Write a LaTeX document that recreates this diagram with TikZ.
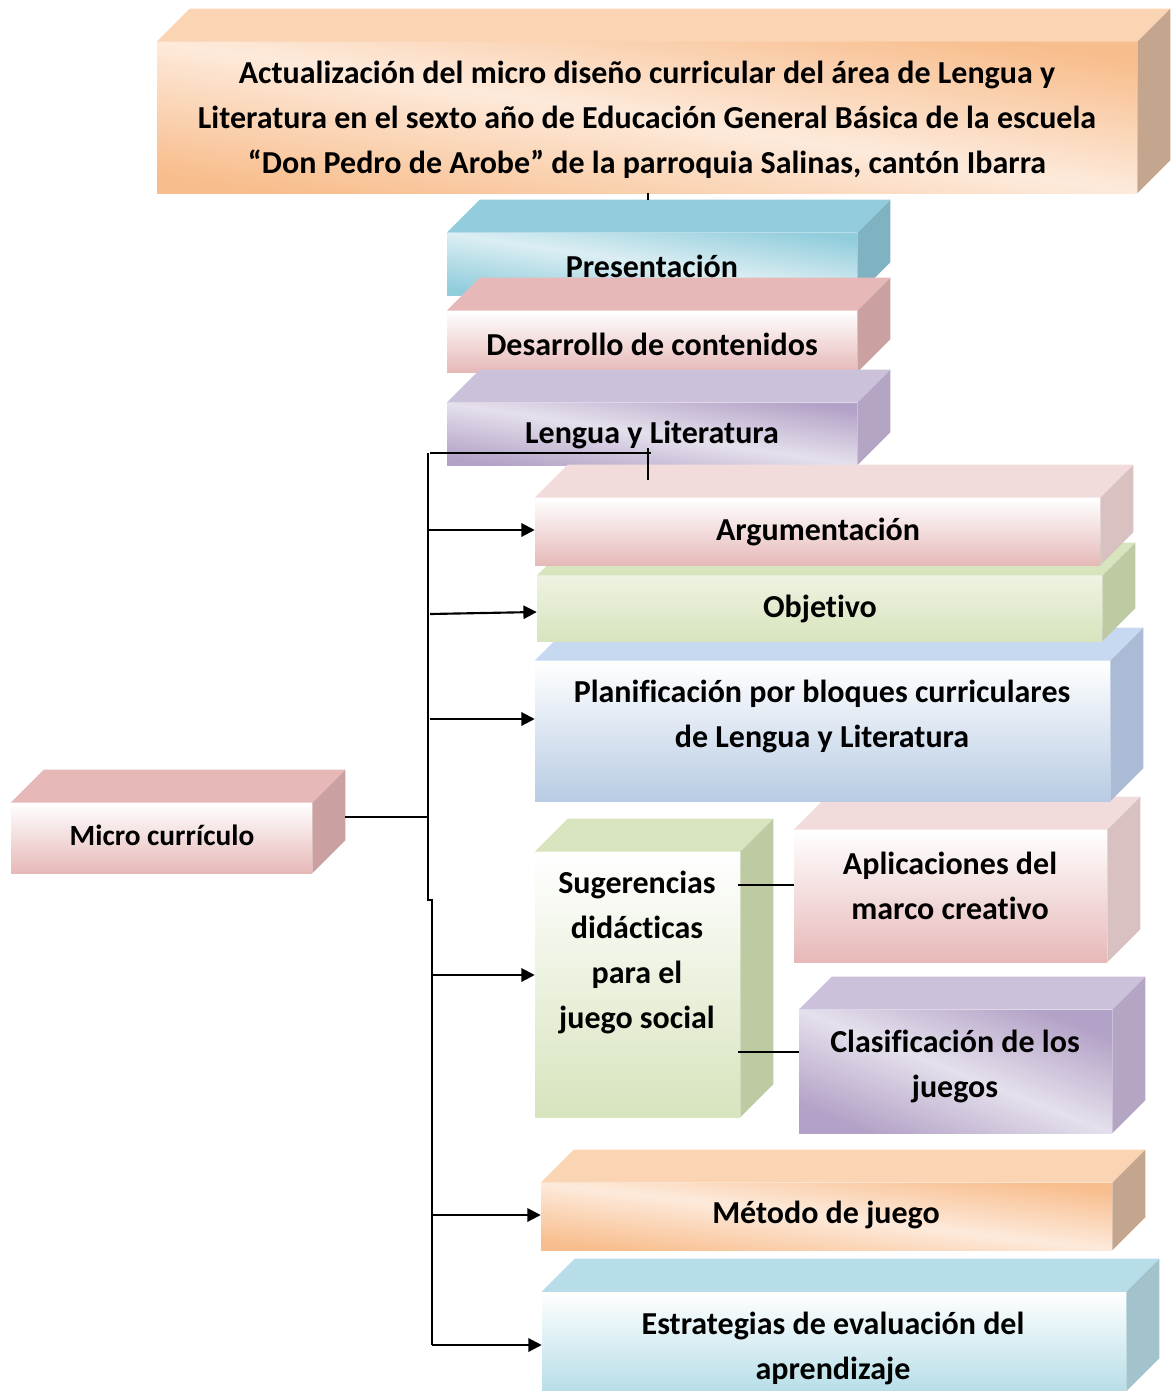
\documentclass[tikz,border=0pt]{standalone}
\usepackage{fontspec}
\setmainfont{Carlito}[Ligatures=NoCommon]
\usetikzlibrary{arrows.meta,calc}
\definecolor{orTop}{HTML}{FBD4B4}
\definecolor{orDark}{HTML}{F8BD8C}
\definecolor{orLight}{HTML}{FDEADB}
\definecolor{orSide}{HTML}{C4A68E}
\definecolor{blTop}{HTML}{93CDDD}
\definecolor{blDark}{HTML}{92CDDC}
\definecolor{blLight}{HTML}{DBEEF3}
\definecolor{blSide}{HTML}{80B3C1}
\definecolor{pkTop}{HTML}{E6B9B8}
\definecolor{pkSide}{HTML}{CAA0A0}
\definecolor{puTop}{HTML}{CCC1DA}
\definecolor{puDark}{HTML}{B3A2C7}
\definecolor{puLight}{HTML}{E5E0EC}
\definecolor{puSide}{HTML}{B3A5C3}
\definecolor{lpTop}{HTML}{F2DCDB}
\definecolor{lpSide}{HTML}{D9C1C2}
\definecolor{grTop}{HTML}{D7E4BD}
\definecolor{grLight}{HTML}{EEF3E2}
\definecolor{grSide}{HTML}{BECAA2}
\definecolor{pbTop}{HTML}{C6D9F1}
\definecolor{pbBot}{HTML}{B8CCE4}
\definecolor{pbSide}{HTML}{ABBBD6}
\definecolor{esTop}{HTML}{B7DEE8}
\definecolor{esSide}{HTML}{A2C3CB}
\tikzset{
  front/.style={rectangle, inner sep=0pt, draw=none},
  txt/.style={font=\fontsize{24}{33.75}\selectfont\bfseries, align=center, inner sep=0pt},
  conn/.style={line width=1.6pt, black},
  arr/.style={conn, -{Triangle[length=10pt,width=10pt]}},
  diagOr/.style={top color=orDark, bottom color=orDark, middle color=orLight, shading angle=#1},
  diagBl/.style={top color=blDark, bottom color=blDark, middle color=blLight, shading angle=#1},
  diagPu/.style={top color=puDark, bottom color=puDark, middle color=puLight, shading angle=#1},
  vertPk/.style={top color=white, bottom color=pkTop},
  vertGr/.style={top color=grLight, bottom color=grTop},
  vertGrW/.style={top color=white, bottom color=grTop},
  vertPb/.style={top color=white, bottom color=pbBot},
  vertEs/.style={top color=white, bottom color=esTop},
}
\newcommand\cubeface[8]{%
  \node[front,#6, minimum width={(#4-#2)*0.75pt}, minimum height={(#5-#3)*0.75pt}] (#1) at ({(#2+#4)/2},{(#3+#5)/2}) {};
  \fill[#7] (#1.north west) -- ++(33,-33) -- ($(#1.north east)+(33,-33)$) -- (#1.north east) -- cycle;
  \fill[#8] (#1.north east) -- ++(33,-33) -- ($(#1.south east)+(33,-33)$) -- (#1.south east) -- cycle;
}
\begin{document}
\begin{tikzpicture}[x=0.75pt,y=-0.75pt]
\useasboundingbox (0,0) rectangle (1170,1391);
% upper stack
\cubeface{title}{157}{42}{1137}{193}{diagOr=-8.8}{orTop}{orSide}
\cubeface{pres}{447}{233}{857}{295}{diagBl=-8.6}{blTop}{blSide}
\cubeface{desa}{447}{311}{857}{372}{vertPk}{pkTop}{pkSide}
\cubeface{leng}{447}{403}{857}{465}{diagPu=-8.6}{puTop}{puSide}
\cubeface{micro}{11}{803}{312}{873}{vertPk}{pkTop}{pkSide}
% lower stack (bottom first)
\cubeface{estr}{542}{1292}{1126}{1391}{vertEs}{esTop}{esSide}
\cubeface{meto}{541}{1183}{1112}{1250}{diagOr=-6.7}{orTop}{orSide}
\cubeface{clas}{799}{1010}{1112}{1133}{diagPu=-21.5}{puTop}{puSide}
\cubeface{apli}{794}{830}{1107}{962}{vertPk}{lpTop}{lpSide}
\cubeface{suge}{535}{852}{740}{1117}{vertGrW}{grTop}{grSide}
\cubeface{plan}{535}{661}{1110}{801}{vertPb}{pbTop}{pbSide}
\cubeface{obje}{537}{576}{1102}{641}{vertGr}{grTop}{grSide}
\cubeface{argu}{535}{498}{1100}{565}{vertPk}{lpTop}{lpSide}
% texts
\node[txt] (tTitle) at (647,120) {Actualización del micro diseño curricular del área de Lengua y\\Literatura en el sexto año de Educación General Básica de la escuela\\“Don Pedro de Arobe” de la parroquia Salinas, cantón Ibarra};
\node[txt] (tPres) at (652,266) {Presentación};
\node[txt] (tDesa) at (652,344) {Desarrollo de contenidos};
\node[txt] (tLeng) at (652,435) {Lengua y Literatura};
\node[txt] (tArgu) at (818,532) {Argumentación};
\node[txt] (tObje) at (820,609) {Objetivo};
\node[txt] (tPlan) at (822,716) {Planificación por bloques curriculares\\de Lengua y Literatura};
\node[txt, font=\fontsize{22}{33.75}\selectfont\bfseries] (tMicro) at (162,835) {Micro currículo};
\node[txt] (tSuge) at (637,952) {Sugerencias\\didácticas\\para el\\juego social};
\node[txt] (tApli) at (950,886) {Aplicaciones del\\marco creativo};
\node[txt] (tClas) at (955,1066) {Clasificación de los\\juegos};
\node[txt] (tMeto) at (826,1215) {Método de juego};
\node[txt] (tEstr) at (833,1348) {Estrategias de evaluación del\\aprendizaje};
% connector coordinates
\coordinate (stubA) at (648,193);
\coordinate (stubB) at (648,200);
\coordinate (hA) at (430,453);
\coordinate (hB) at (651,453);
\coordinate (vA) at (648,448);
\coordinate (vB) at (648,480);
\coordinate (busTop) at (428,453);
\coordinate (busJogA) at (428,898);
\coordinate (busJogB) at (432,900);
\coordinate (busBot) at (432,1345);
\coordinate (mLine) at (428,817);
\coordinate (yArgu) at (428,530);
\coordinate (yObjeA) at (430,614);
\coordinate (yObje) at (0,612);
\coordinate (yPlan) at (430,719);
\coordinate (ySuge) at (432,975);
\coordinate (yMeto) at (432,1215);
\coordinate (yEstr) at (432,1345);
\coordinate (yApli) at (0,885);
\coordinate (yClas) at (0,1052);
% connectors
\draw[conn] (stubA) -- (stubB);
\draw[conn] (hA) -- (hB);
\draw[conn] (vA) -- (vB);
\draw[conn] (busTop) -- (busJogA) -- (busJogA |- busJogB) -- (busJogB) -- (busBot);
\draw[conn] ($(micro.east |- mLine)+(33,0)$) -- (mLine);
\draw[arr] (yArgu) -- (argu.west |- yArgu);
\draw[arr] (yObjeA) -- (obje.west |- yObje);
\draw[arr] (yPlan) -- (plan.west |- yPlan);
\draw[arr] (ySuge) -- (suge.west |- ySuge);
\draw[arr] (yMeto) -- (meto.west |- yMeto);
\draw[arr] (yEstr) -- (estr.west |- yEstr);
\draw[conn] ($(suge.east |- yApli)+(-2,0)$) -- (apli.west |- yApli);
\draw[conn] ($(suge.east |- yClas)+(-2,0)$) -- (clas.west |- yClas);
\end{tikzpicture}
\end{document}
